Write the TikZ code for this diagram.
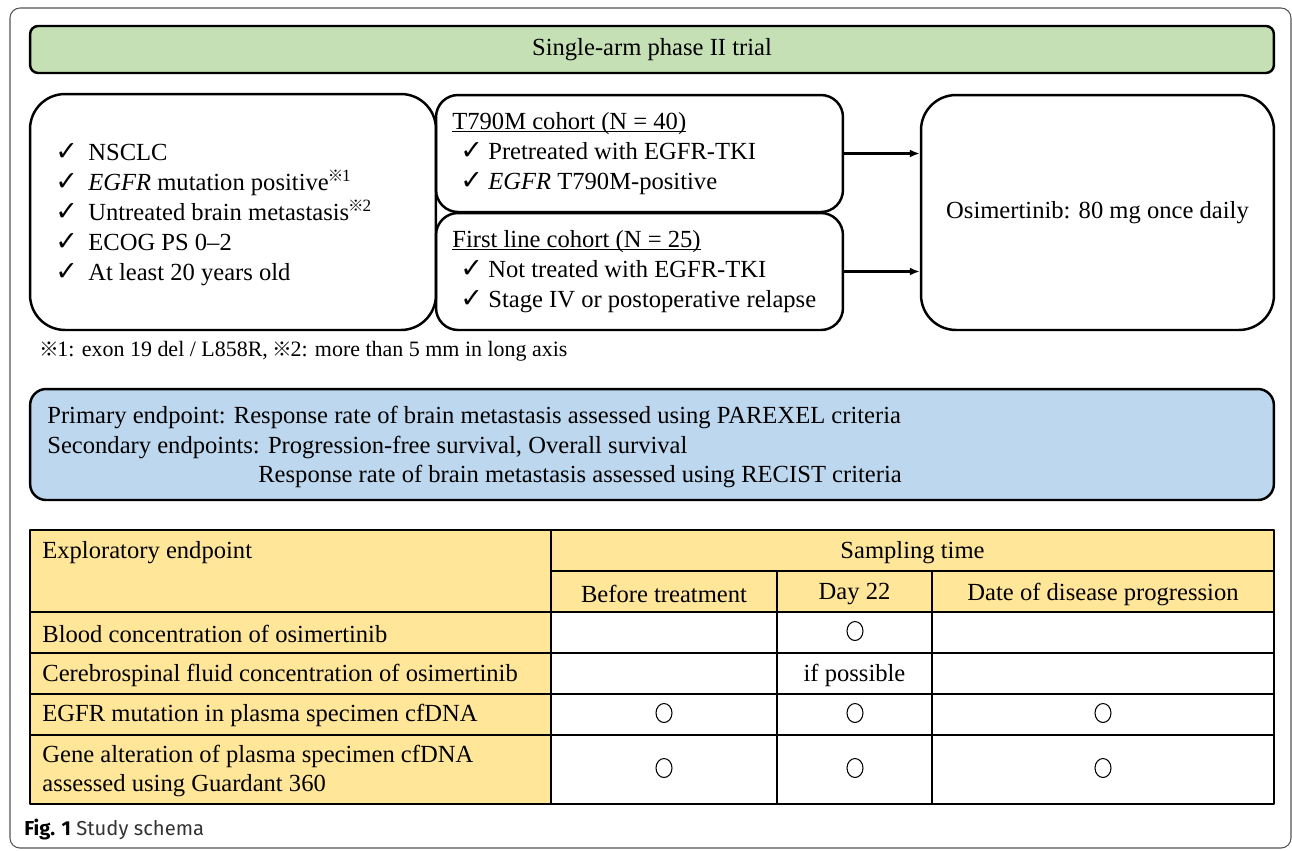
\documentclass[tikz,border=0pt]{standalone}
\usepackage{fontspec}
\setmainfont{Liberation Serif}
\setsansfont{Fira Sans}
\newfontfamily\cjk[Scale=0.9]{Noto Sans CJK JP}
\newfontfamily\symfont[Scale=1.1]{DejaVu Sans}
\usetikzlibrary{arrows.meta}
\definecolor{trialgreen}{HTML}{C5E0B4}
\definecolor{endblue}{HTML}{BDD7EE}
\definecolor{tabyellow}{HTML}{FFE699}
\definecolor{framegray}{HTML}{555555}
\newcommand{\refmark}{\makebox[0.78em][c]{\cjk ※}}
\newcommand{\chk}[1]{\makebox[#1][l]{\symfont ✓}}
\newcommand{\ul}[1]{\setbox0\hbox{#1}\rlap{\rule[-1.6pt]{\wd0}{0.6pt}}\box0}

\begin{document}
\begin{tikzpicture}[x=0.02cm, y=-0.02cm, line join=round,
    txt/.style={inner sep=0pt, align=left, font=\fontsize{14}{17}\selectfont},
    box/.style={draw, line width=1.4pt},
    flow/.style={line width=1.2pt, -{Latex[length=0.2cm,width=0.16cm]}},
    grid/.style={line width=0.8pt}]
		\useasboundingbox (0,0) rectangle (1292,850);
		% frame
		\draw[framegray, line width=0.6pt, rounded corners=0.2cm] (10,8) rectangle (1291,848);
		% trial
		\node[box, fill=trialgreen, rounded corners=0.16cm, minimum width=24.88cm, minimum height=0.94cm, txt] (trial) at (652,49.5) {Single-arm phase II trial};
		% criteria
		\node[box, rounded corners=0.7cm, minimum width=8.12cm, minimum height=4.72cm] (crit) at (233,212) {};
		\node[txt, anchor=west] (critlist) at (55,214.5) {\chk{0.66cm}NSCLC\\
			\chk{0.66cm}\textit{EGFR} mutation positive\textsuperscript{\refmark 1}\\
			\chk{0.66cm}Untreated brain metastasis\textsuperscript{\refmark 2}\\
			\chk{0.66cm}ECOG PS 0--2\\
			\chk{0.66cm}At least 20 years old};
		% cohorts
		\node[box, rounded corners=0.44cm, minimum width=8.14cm, minimum height=2.34cm] (t790) at (639.5,153.5) {};
		\node[txt, anchor=west] (t790list) at (452,153.5) {\ul{T790M cohort (N = 40)}\\
			\hspace*{0.16cm}\chk{0.56cm}Pretreated with EGFR-TKI\\
			\hspace*{0.16cm}\chk{0.56cm}\textit{EGFR} T790M-positive};
		\node[box, rounded corners=0.44cm, minimum width=8.14cm, minimum height=2.34cm] (first) at (639.5,271.5) {};
		\node[txt, anchor=west] (firstlist) at (452,271.5) {\ul{First line cohort (N = 25)}\\
			\hspace*{0.16cm}\chk{0.56cm}Not treated with EGFR-TKI\\
			\hspace*{0.16cm}\chk{0.56cm}Stage IV or postoperative relapse};
		% treatment
		\node[box, rounded corners=0.7cm, minimum width=7.06cm, minimum height=4.7cm, txt] (osi) at (1097.5,212.5) {Osimertinib: 80 mg once daily};
		\draw[flow] (t790.east) -- (t790.east -| osi.west);
		\draw[flow] (first.east) -- (first.east -| osi.west);
		% note
		\node[txt, anchor=west, font=\fontsize{12.5}{15}\selectfont] (note) at (40,351) {\refmark 1: exon 19 del / L858R, \refmark 2: more than 5 mm in long axis};
		% endpoints
		\node[box, fill=endblue, rounded corners=0.32cm, minimum width=24.88cm, minimum height=2.22cm] (ends) at (652,444.5) {};
		\node[txt, anchor=west] (endlist) at (47,447) {Primary endpoint: Response rate of brain metastasis assessed using PAREXEL criteria\\
			Secondary endpoints: Progression-free survival, Overall survival\\
			\hspace*{4.22cm}Response rate of brain metastasis assessed using RECIST criteria};
		% table
		\fill[white] (30,530) rectangle (1274,804);
		\fill[tabyellow] (30,530) rectangle (551,804);
		\fill[tabyellow] (551,530) rectangle (1274,612);
		\draw[grid] (30,530) rectangle (1274,804);
		\draw[grid] (551,571) -- (1274,571);
		\foreach \y in {612,653,694,735}
			\draw[grid] (30,\y) -- (1274,\y);
		\draw[grid] (551,530) -- (551,804);
		\foreach \x in {777,932}
			\draw[grid] (\x,571) -- (\x,804);
		\node[txt, anchor=west] (expl) at (42,553) {Exploratory endpoint};
		\node[txt] (samp) at (912.5,553) {Sampling time};
		\node[txt] (before) at (664,594) {Before treatment};
		\node[txt] (day) at (854.5,594) {Day 22};
		\node[txt] (date) at (1103,594) {Date of disease progression};
		\node[txt, anchor=west] (blood) at (42,634) {Blood concentration of osimertinib};
		\node[txt, anchor=west] (csf) at (42,675) {Cerebrospinal fluid concentration of osimertinib};
		\node[txt, anchor=west] (plasma) at (42,715) {EGFR mutation in plasma specimen cfDNA};
		\node[txt, anchor=west] (gene) at (42,771) {Gene alteration of plasma specimen cfDNA\\assessed using Guardant 360};
		\node[txt] (ifposs) at (854.5,675) {if possible};
		\foreach \cx/\cy in {855/631, 664/713, 855/713, 1103/713, 664/768, 855/768, 1103/768}
			\draw[line width=0.6pt] (\cx,\cy) ellipse [x radius=0.16cm, y radius=0.19cm];
		% caption
		\node[inner sep=0pt, anchor=west, font=\sffamily\fontsize{11.5}{14}\selectfont] (cap) at (24,830) {\textbf{Fig. 1} \textcolor{black!80}{Study schema}};
	\end{tikzpicture}
\end{document}
